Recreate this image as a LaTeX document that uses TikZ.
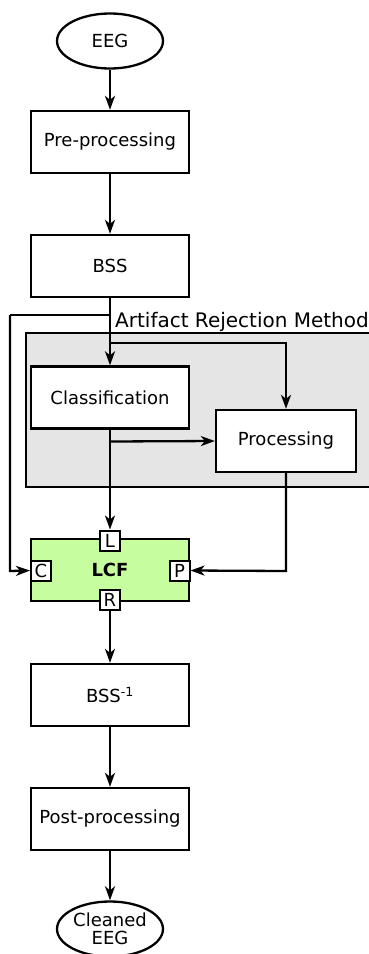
\documentclass[tikz,border=0pt]{standalone}
\usepackage{fontspec}
\setmainfont{DejaVu Sans}
\usetikzlibrary{arrows.meta,shapes.geometric}
\definecolor{lcfgreen}{HTML}{C6FD9E}
\definecolor{argray}{HTML}{E5E5E5}
\tikzset{
  box/.style={draw, line width=2.3pt, fill=white, minimum width=158pt, minimum height=62pt, inner sep=0pt, font=\fontsize{18}{21}\selectfont},
  oval/.style={draw, line width=2.3pt, ellipse, minimum width=106pt, minimum height=55pt, inner sep=0pt, align=center, font=\fontsize{18}{21}\selectfont},
  port/.style={draw, line width=2pt, fill=white, minimum size=20pt, inner sep=0pt, font=\fontsize{18}{21}\selectfont},
  conn/.style={line width=2.3pt, -{Stealth[length=14pt, width=10pt, inset=4pt]}},
  wire/.style={line width=2.3pt},
}
\begin{document}
\begin{tikzpicture}[x=1pt, y=-1pt]
\useasboundingbox (0,0) rectangle (369,954);
\clip (0,0) rectangle (369,954);
% artifact rejection region
\fill[argray] (26,333) rectangle (380,487);
\draw[line width=2.3pt] (380,333) -- (26,333) -- (26,487) -- (380,487);
\node[anchor=base west, inner sep=0pt, font=\fontsize{20}{22}\selectfont] (arlabel) at (115,327.5) {Artifact Rejection Method};

\node[oval] (eeg) at (110,41) {EEG};
\node[box] (pre) at (110,142) {Pre-processing};
\node[box] (bss) at (110,266) {BSS};
\node[box] (cls) at (110,397.5) {Classification};
\node[box, minimum width=140pt] (proc) at (286,441) {Processing};
\node[box, fill=lcfgreen] (lcf) at (110,570) {\bfseries LCF};
\node[port] (pl) at (110,540.5) {L};
\node[port] (pc) at (41,570.5) {C};
\node[port] (pp) at (179.5,570.5) {P};
\node[port] (pr) at (110,599.5) {R};
\node[box] (inv) at (110,695) {BSS\textsuperscript{-1}};
\node[box] (post) at (110,819) {Post-processing};
\node[oval] (clean) at (110,929) {Cleaned\\[-3pt]EEG};

\coordinate (b1) at (110,315);
\coordinate (b2) at (10,315);
\coordinate (b3) at (10,571);
\coordinate (c1) at (110,343);
\coordinate (c2) at (286,343);
\coordinate (d1) at (110,441.5);
\coordinate (p1) at (286,571);

\draw[conn] (eeg) -- (pre);
\draw[conn] (pre) -- (bss);
\draw[conn] (bss.south) -- (cls.north);
\draw[wire] (b1) -- (b2);
\draw[conn] (b2) -- (b3) -- (pc.west);
\draw[conn] (c1) -- (c2) -- (proc.north);
\draw[conn] (cls.south) -- (pl.north);
\draw[conn] (d1) -- (proc.west);
\draw[conn] (proc.south) -- (p1) -- (pp.east);
\draw[conn] (pr.south) -- (inv.north);
\draw[conn] (inv) -- (post);
\draw[conn] (post) -- (clean);
\end{tikzpicture}
\end{document}
